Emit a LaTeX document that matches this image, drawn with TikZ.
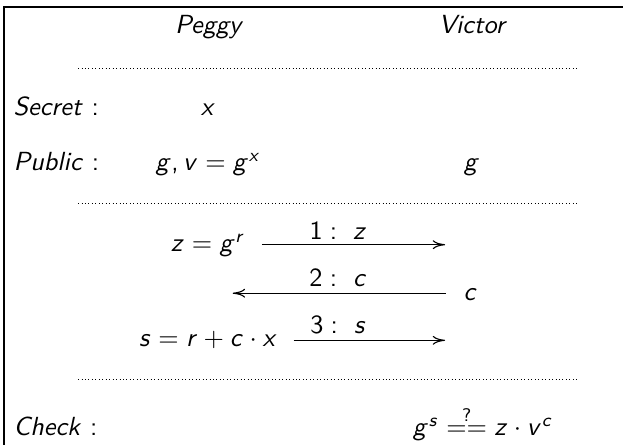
\documentclass[tikz,border=0pt]{standalone}
\usepackage{fix-cm}
\renewcommand{\familydefault}{\sfdefault}
\SetSymbolFont{operators}{normal}{OT1}{cmss}{m}{n}
\SetSymbolFont{letters}{normal}{OT1}{cmss}{m}{sl}
\DeclareMathSymbol{,}{\mathpunct}{operators}{"2C}
\newcommand{\diagfont}{\fontsize{10.6pt}{12.7pt}\selectfont}
\usetikzlibrary{arrows.meta,positioning}

\begin{document}
\begin{tikzpicture}[font=\diagfont,
  role/.style={anchor=base,font=\diagfont\itshape},
  rowname/.style={anchor=base west},
  term/.style={anchor=base},
  sepline/.style={densely dotted,line width=0.4pt},
  msg/.style={-{To[length=5pt,width=3.6pt]},line width=0.45pt}]
  \useasboundingbox (0,0) rectangle (8.86,-6.33);
  \coordinate (tr) at (8.86,-0.10);
  \coordinate (tl) at (0.057,-0.10);
  \coordinate (bl) at (0.057,-6.33);
  \draw[line width=0.45pt] (tr) -- (tl) -- (bl);

  \node[role] (peggy) at (2.96,-0.47) {Peggy};
  \node[role] (victor) at (6.71,-0.47) {Victor};
  \coordinate (d1a) at (1.11,-0.97);
  \coordinate (d1b) at (8.21,-0.97);
  \draw[sepline] (d1a) -- (d1b);

  \node[rowname] (secret) at (0.07,-1.64) {\textit{Secret} :};
  \node[term] (sP) at (2.96,-1.64) {$x$};
  \node[rowname] (public) at (0.07,-2.43) {\textit{Public} :};
  \node[term] (pubP) at (2.96,-2.43) {$g, v = g^x$};
  \node[term] (pubV) at (6.71,-2.43) {$g$};
  \coordinate (d2a) at (1.11,-2.89);
  \coordinate (d2b) at (8.21,-2.89);
  \draw[sepline] (d2a) -- (d2b);

  \node[term] (commit) at (2.96,-3.58) {$z = g^r$};
  \coordinate (m1) at (6.33,-3.48);
  \draw[msg,shorten <=1.1mm] (commit.east |- m1) -- (m1);
  \node[term] (l1) at (4.81,-3.40) {$1:\ z$};

  \node[term] (chal) at (6.69,-4.27) {$c$};
  \coordinate (m2s) at (6.34,-4.17);
  \coordinate (m2e) at (3.31,-4.17);
  \draw[msg] (m2s) -- (m2e);
  \node[term] (l2) at (4.81,-4.08) {$2:\ c$};

  \node[term] (resp) at (2.96,-4.93) {$s = r + c\cdot x$};
  \coordinate (m3) at (6.33,-4.84);
  \draw[msg,shorten <=1.1mm] (resp.east |- m3) -- (m3);
  \node[term] (l3) at (4.81,-4.74) {$3:\ s$};

  \coordinate (d3a) at (1.11,-5.40);
  \coordinate (d3b) at (8.21,-5.40);
  \draw[sepline] (d3a) -- (d3b);

  \node[rowname] (check) at (0.07,-6.20) {\textit{Check} :};
  \node[term] (verify) at (6.87,-6.20) {$g^s \stackrel{?}{==} z\cdot v^c$};
\end{tikzpicture}
\end{document}
